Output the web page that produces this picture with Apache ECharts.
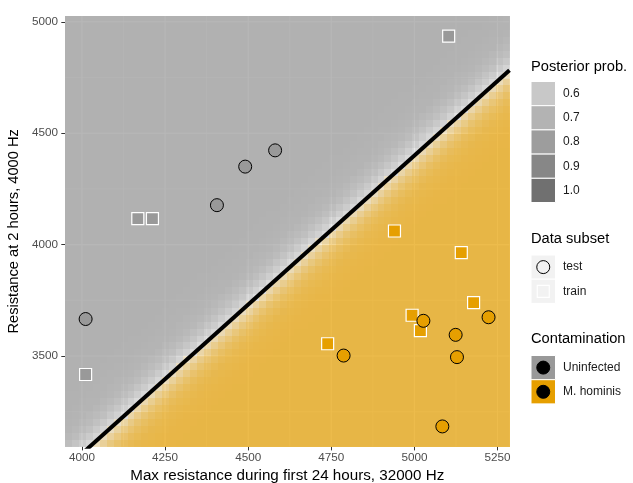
<!DOCTYPE html>
<html><head><meta charset="utf-8">
<script src="https://cdn.jsdelivr.net/npm/echarts@6/dist/echarts.min.js"></script>
<style>html,body{margin:0;padding:0;background:#fff}#c{width:633px;height:483px}</style>
</head><body><div id="c"></div>
<script>
// ---- data ----
const xTicks = [4000, 4250, 4500, 4750, 5000, 5250];
const xMinor = [4125, 4375, 4625, 4875, 5125];
const yTicks = [3500, 4000, 4500, 5000];
const yMinor = [3250, 3750, 4250, 4750];
const xRange = [3949, 5286];
const yRange = [3093, 5026];

const testUninfected  = [[4011, 3666], [4491, 4350], [4406, 4177], [4581, 4423]];
const trainUninfected = [[4011, 3417], [4168, 4117], [4212, 4117], [5103, 4936]];
const trainHominis    = [[4940, 4061], [5141, 3964], [5178, 3740], [4993, 3683], [5018, 3614], [4739, 3555]];
const testHominis     = [[5027, 3658], [5223, 3674], [5124, 3595], [5128, 3495], [4787, 3502], [5084, 3184]];

// decision boundary (posterior = 0.5): y = y0 + slope * (x - x0)
const boundary = { x0: 4030, y0: 3102, slope: 1.338 };
const steepness = 0.019;          // logistic rate per unit of vertical margin
const gridCells = [64, 62];       // posterior grid resolution
const probBreaks = ['0.6', '0.7', '0.8', '0.9', '1.0'];
const classes = ['Uninfected', 'M. hominis'];
const subsets = ['test', 'train'];

// ---- styles ----
const FONT = 'Liberation Sans, Arial, sans-serif';
const classColor = ['#999999', '#E69F00'];
const probKeyColor = ['#C8C8C8', '#B3B3B3', '#9D9D9D', '#878787', '#707070'];

function boundaryY(x) { return boundary.y0 + boundary.slope * (x - boundary.x0); }

// posterior grid built from the boundary model
const cells = [];
const dx = (xRange[1] - xRange[0]) / gridCells[0];
const dy = (yRange[1] - yRange[0]) / gridCells[1];
for (let i = 0; i < gridCells[0]; i++) {
  for (let j = 0; j < gridCells[1]; j++) {
    const xa = xRange[0] + i * dx, xb = xa + dx;
    const ya = yRange[0] + j * dy, yb = ya + dy;
    const m = (ya + yb) / 2 - boundaryY((xa + xb) / 2);
    const p = 1 / (1 + Math.exp(-steepness * Math.abs(m)));
    cells.push([xa, ya, xb, yb, p, m > 0 ? 0 : 1]);
  }
}
const gridLines = [];
xTicks.forEach(v => gridLines.push([v, 0, 1]));
xMinor.forEach(v => gridLines.push([v, 0, 0]));
yTicks.forEach(v => gridLines.push([v, 1, 1]));
yMinor.forEach(v => gridLines.push([v, 1, 0]));

function hexA(hex, a) {
  const r = parseInt(hex.slice(1, 3), 16), g = parseInt(hex.slice(3, 5), 16), b = parseInt(hex.slice(5, 7), 16);
  return 'rgba(' + r + ',' + g + ',' + b + ',' + a.toFixed(3) + ')';
}

const chart = echarts.init(document.getElementById('c'), null, { renderer: 'canvas' });

const axisCommon = {
  type: 'value',
  axisLine: { show: false },
  splitLine: { show: false },
  nameLocation: 'middle'
};

// legend graphics
const LX = 531, KW = 24.5, KH = 24.2, TX = 563;
const g = [];
function title(t, y) { g.push({ type: 'text', left: LX, top: y - 9, style: { text: t, font: '14.67px ' + FONT, fill: '#000' } }); }
function label(t, y) { g.push({ type: 'text', x: TX, y: y, style: { text: t, font: '12px ' + FONT, fill: '#1A1A1A', verticalAlign: 'middle' } }); }
title('Posterior prob.', 68);
probBreaks.forEach((b, i) => {
  const y = 81.5 + i * KH;
  g.push({ type: 'rect', shape: { x: LX, y: y, width: KW, height: KH }, style: { fill: probKeyColor[i], stroke: '#fff', lineWidth: 1 } });
  label(b, y + KH / 2);
});
title('Data subset', 240);
subsets.forEach((s, i) => {
  const y = 255 + i * KH;
  g.push({ type: 'rect', shape: { x: LX, y: y, width: KW, height: KH }, style: { fill: '#F2F2F2', stroke: '#fff', lineWidth: 1 } });
  if (i === 0) g.push({ type: 'circle', shape: { cx: LX + KW / 2, cy: y + KH / 2, r: 6.5 }, style: { fill: 'none', stroke: '#000', lineWidth: 1 } });
  else g.push({ type: 'rect', shape: { x: LX + KW / 2 - 6, y: y + KH / 2 - 6, width: 12, height: 12 }, style: { fill: 'none', stroke: '#fff', lineWidth: 1.2 } });
  label(s, y + KH / 2);
});
title('Contamination', 340);
classes.forEach((c, i) => {
  const y = 355.5 + i * KH;
  g.push({ type: 'rect', shape: { x: LX, y: y, width: KW, height: KH }, style: { fill: classColor[i], stroke: '#fff', lineWidth: 1 } });
  g.push({ type: 'circle', shape: { cx: LX + KW / 2, cy: y + KH / 2, r: 6.5 }, style: { fill: '#000', stroke: '#000', lineWidth: 1 } });
  label(c, y + KH / 2);
});

function scatter(data, symbol, cls) {
  const isTest = symbol === 'circle';
  return {
    type: 'scatter', data: data, z: 5,
    symbol: symbol, symbolSize: isTest ? 13 : 12,
    itemStyle: { color: classColor[cls], borderColor: isTest ? '#000' : '#fff', borderWidth: isTest ? 1 : 1.2, opacity: 1 }
  };
}

chart.setOption({
  animation: false,
  backgroundColor: '#fff',
  textStyle: { fontFamily: FONT },
  grid: { left: 65, top: 16, width: 444.5, height: 430.7, show: true, backgroundColor: '#EBEBEB', borderWidth: 0, containLabel: false, outerBoundsMode: 'none' },
  xAxis: Object.assign({}, axisCommon, {
    min: xRange[0], max: xRange[1],
    name: 'Max resistance during first 24 hours, 32000 Hz', nameGap: 19,
    nameTextStyle: { fontFamily: FONT, fontSize: 15.2, color: '#000' },
    axisTick: { show: true, customValues: xTicks, length: 3.7, lineStyle: { color: '#333', width: 1 } },
    axisLabel: { customValues: xTicks, formatter: v => String(v), color: '#4D4D4D', fontSize: 11.7, fontFamily: FONT, margin: 5 }
  }),
  yAxis: Object.assign({}, axisCommon, {
    min: yRange[0], max: yRange[1],
    name: 'Resistance at 2 hours, 4000 Hz', nameGap: 36, nameRotate: 90,
    nameTextStyle: { fontFamily: FONT, fontSize: 14.67, color: '#000' },
    axisTick: { show: true, customValues: yTicks, length: 3.7, lineStyle: { color: '#333', width: 1 } },
    axisLabel: { customValues: yTicks, formatter: v => String(v), color: '#4D4D4D', fontSize: 11.7, fontFamily: FONT, margin: 7 }
  }),
  graphic: g,
  series: [
    {
      type: 'custom', z: 1, silent: true, clip: false, data: gridLines,
      encode: { x: 0 },
      renderItem: function (params, api) {
        const cs = params.coordSys;
        const item = gridLines[params.dataIndex];
        const v = item[0], horiz = item[1] === 1, major = item[2] === 1;
        let shape;
        if (!horiz) { const px = api.coord([v, yRange[0]])[0]; shape = { x1: px, y1: cs.y, x2: px, y2: cs.y + cs.height }; }
        else { const py = api.coord([xRange[0], v])[1]; shape = { x1: cs.x, y1: py, x2: cs.x + cs.width, y2: py }; }
        return { type: 'line', shape: shape, style: { stroke: '#fff', lineWidth: major ? 1.1 : 0.55 } };
      }
    },
    {
      type: 'custom', z: 2, silent: true, data: cells,
      encode: { x: [0, 2], y: [1, 3] },
      renderItem: function (params, api) {
        const a = api.coord([api.value(0), api.value(1)]);
        const b = api.coord([api.value(2), api.value(3)]);
        const x0 = Math.round(Math.min(a[0], b[0])), x1 = Math.round(Math.max(a[0], b[0]));
        const y0 = Math.round(Math.min(a[1], b[1])), y1 = Math.round(Math.max(a[1], b[1]));
        const p = api.value(4), cls = api.value(5);
        const alpha = Math.min(0.71, 0.157 + (p - 0.5) * 1.09);
        return { type: 'rect', shape: { x: x0, y: y0, width: x1 - x0, height: y1 - y0 }, style: { fill: hexA(classColor[cls], alpha) } };
      }
    },
    {
      type: 'line', z: 4, silent: true, clip: true, symbol: 'none',
      data: [[xRange[0], boundaryY(xRange[0])], [xRange[1], boundaryY(xRange[1])]],
      lineStyle: { color: '#000', width: 4 }
    },
    scatter(trainUninfected, 'rect', 0),
    scatter(testUninfected, 'circle', 0),
    scatter(trainHominis, 'rect', 1),
    scatter(testHominis, 'circle', 1)
  ]
});
</script></body></html>
